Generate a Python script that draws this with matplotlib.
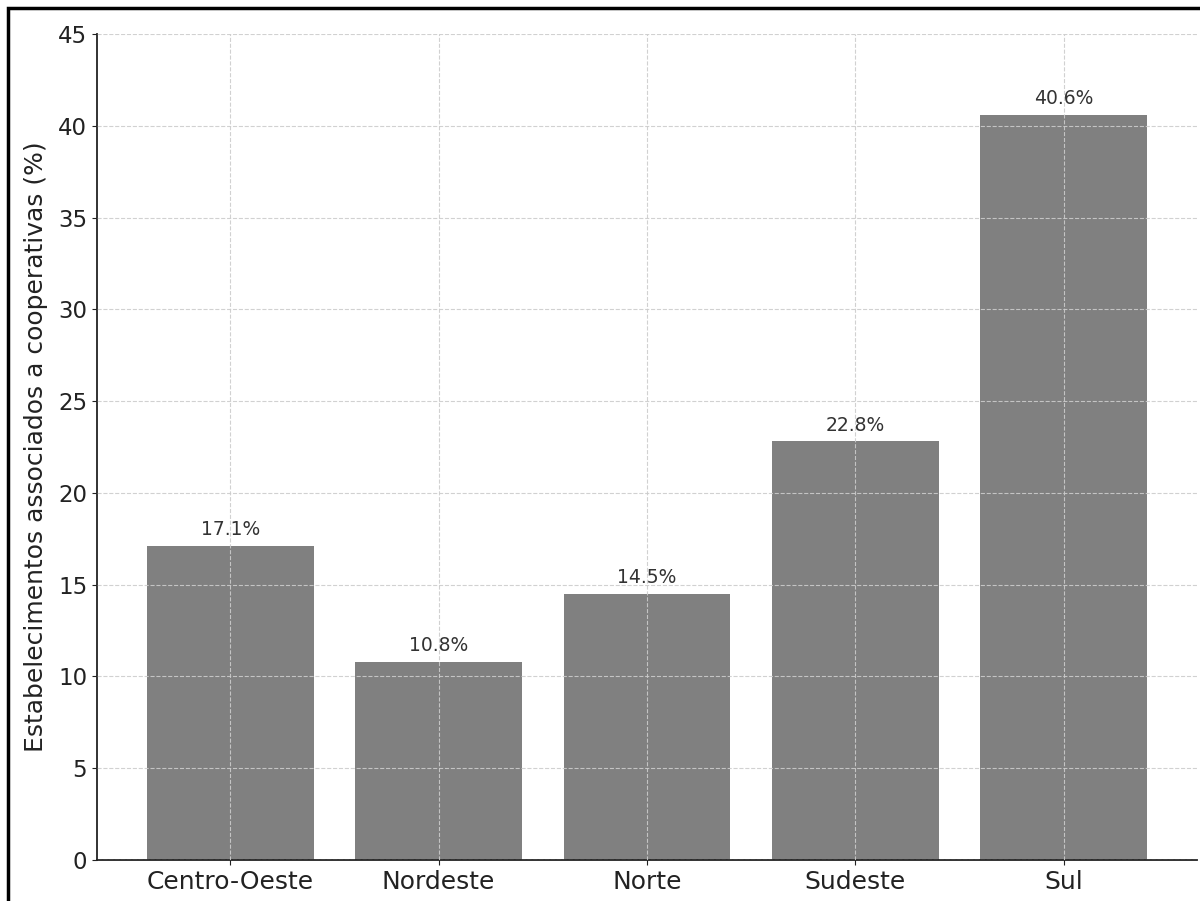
import matplotlib
matplotlib.use("Agg")
import matplotlib.pyplot as plt
from matplotlib.patches import Rectangle

regioes = ["Centro-Oeste", "Nordeste", "Norte", "Sudeste", "Sul"]
percentuais = [17.1, 10.8, 14.5, 22.8, 40.6]
yticks = [0, 5, 10, 15, 20, 25, 30, 35, 40, 45]

W, H = 1200, 901
fig = plt.figure(figsize=(W / 100, H / 100), dpi=100)
ax = fig.add_axes([97 / W, 1 - 860 / H, 1100 / W, (860 - 34) / H])

x = list(range(len(regioes)))
bars = ax.bar(x, percentuais, width=0.8, color="#808080")
for b, v in zip(bars, percentuais):
    ax.annotate(f"{v}%", (b.get_x() + b.get_width() / 2, v),
                xytext=(0, 5), textcoords="offset points",
                ha="center", va="bottom", fontsize=13.5, color="#333333")

ax.set_xticks(x)
ax.set_xticklabels(regioes)
ax.set_yticks(yticks)
ax.set_ylim(0, 45)
ax.set_xlim(-0.64, 4.64)
ax.tick_params(axis="x", labelsize=18, colors="#222222")
ax.tick_params(axis="y", labelsize=16.5, colors="#222222")
ax.set_ylabel("Estabelecimentos associados a cooperativas (%)", fontsize=18,
              color="#222222", labelpad=7)
ax.grid(True, linestyle="--", color="#cccccc", linewidth=0.8, alpha=0.9)
ax.set_axisbelow(False)
for s in ["top", "right"]:
    ax.spines[s].set_visible(False)
for s in ["left", "bottom"]:
    ax.spines[s].set_color("#222222")
    ax.spines[s].set_linewidth(1.3)

# outer frame
fig.patches.append(Rectangle((8 / W, -0.1), 1.2, 1 - 8 / H + 0.1,
                             transform=fig.transFigure, fill=False,
                             edgecolor="black", linewidth=2.5))

fig.savefig("out.png", dpi=100)
